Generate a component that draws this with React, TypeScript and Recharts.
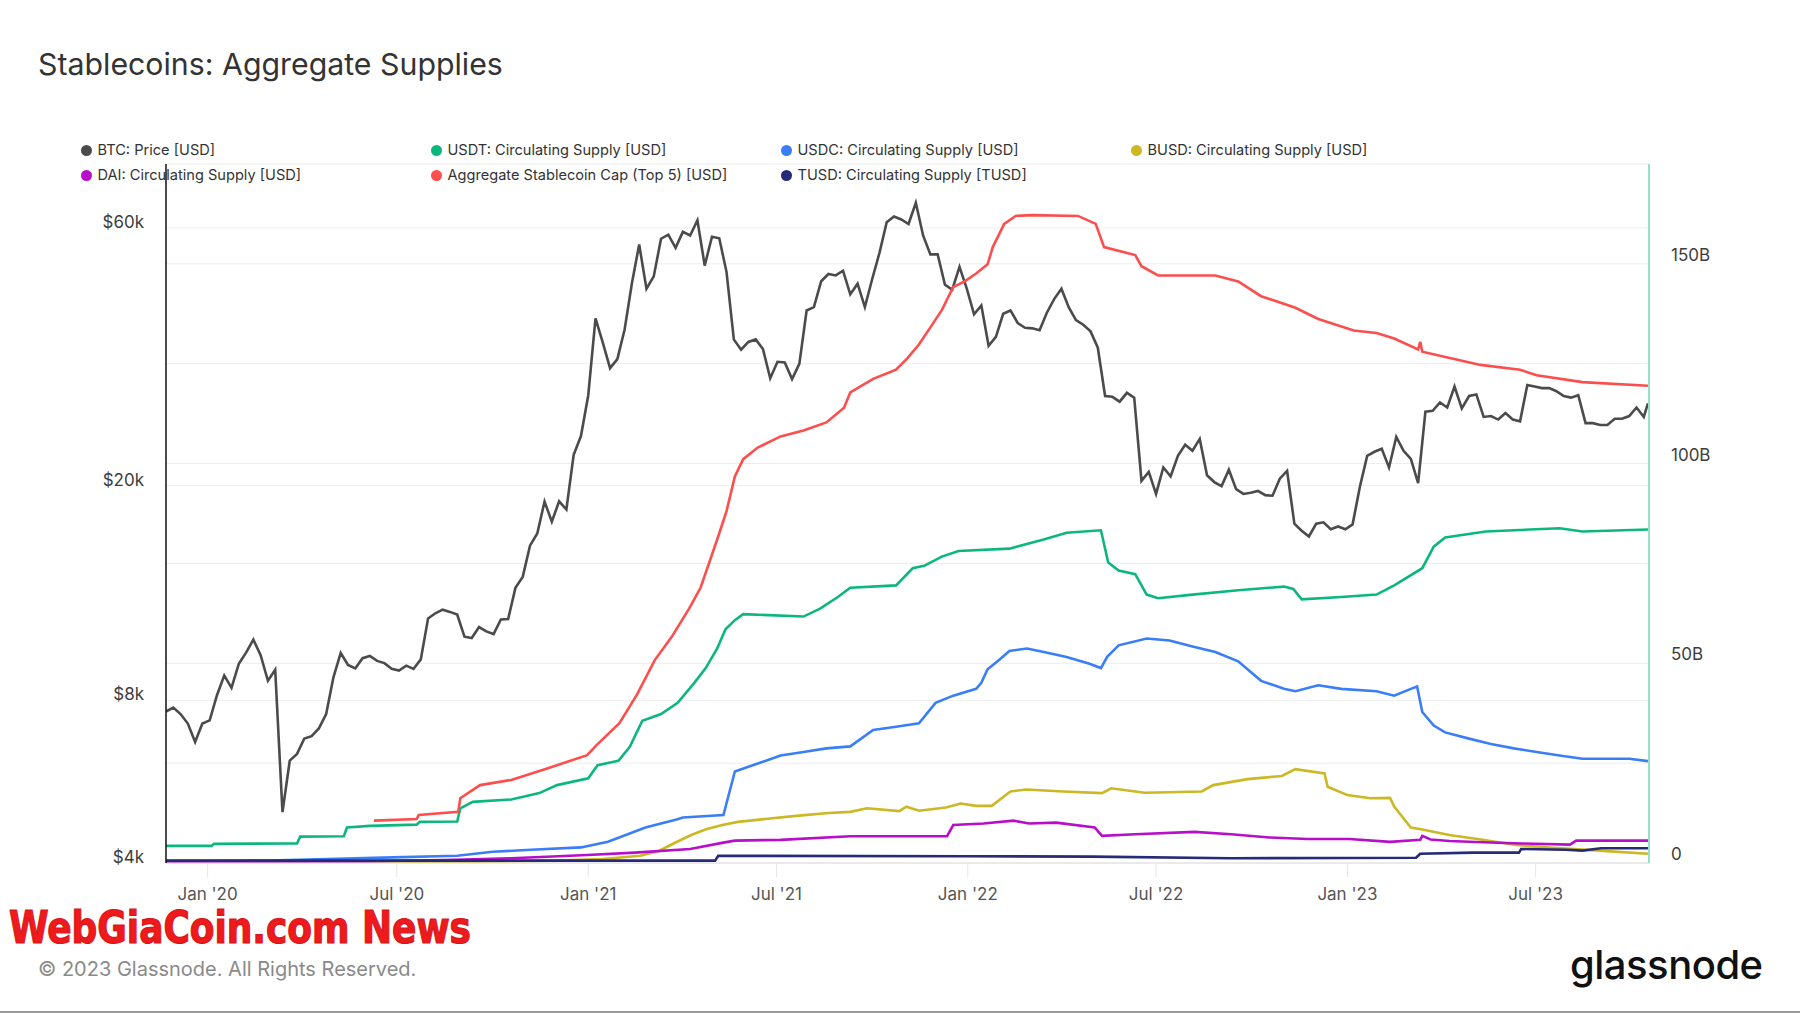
import React from "react"
import { LineChart, Line, XAxis, YAxis, CartesianGrid, ReferenceLine } from "recharts"

// BTC price, weekly closes (USD), each array starts on the given Friday
const btc2019Start = "2019-11-22"
const btc2019 = [7630, 7760, 7550, 7250, 6700, 7250]
const btc2020Start = "2020-01-03"
const btc2020 = [
  7350, 8180, 8900, 8440, 9350, 9810, 10370, 9700, 8700, 9120, 4970, 6190, 6370, 6800, 6870, 7100, 7550, 8830, 9800,
  9310, 9170, 9580, 9670, 9470, 9380, 9160, 9090, 9280, 9150, 9530, 11350, 11600, 11780, 11670, 11540, 10500, 10440,
  10940, 10740, 10620, 11300, 11320, 12930, 13550, 15480, 16300, 18680, 17150, 18700, 18060, 22800, 24700,
]
const btc2021Start = "2021-01-01"
const btc2021 = [
  29370, 40800, 36800, 33000, 34300, 38900, 47400, 55900, 46300, 48800, 57300, 58300, 55100, 59000, 58100, 62000, 51100,
  57800, 57400, 49700, 37300, 35700, 36900, 37300, 35800, 31600, 33900, 33800, 31500, 33600, 42200, 42800, 47800, 49300,
  49000, 50000, 45200, 47300, 42800, 48200, 53900, 61500, 63000, 62200, 61000, 66800, 58100, 53600, 53600, 47100, 46100,
  50800, 46300,
]
const btc2022Start = "2022-01-07"
const btc2022 = [
  41500, 43100, 36300, 37700, 41600, 42200, 40000, 39200, 39100, 38800, 41800, 44300, 46300, 42800, 40500, 39700, 38600,
  36000, 29300, 29200, 28600, 29700, 29100, 20400, 21200, 19300, 21600, 20800, 22700, 23800, 23200, 24400, 20900, 20300,
  19950, 21400, 19700, 19300, 19400, 19550, 19200, 19150, 20600, 21300, 17000, 16500, 16100, 17000, 17100, 16600, 16800,
  16600,
]
const btc2023Start = "2023-01-06"
const btc2023 = [
  16950, 19900, 22700, 23100, 23400, 21600, 24600, 23200, 22400, 20200, 27400, 27500, 28500, 27900, 30500, 27800, 29300,
  29500, 26800, 26900, 26500, 27250, 26500, 26300, 30700, 30500, 30300, 30300, 29900, 29300, 29100, 29400, 26100, 26100,
  25900, 25900, 26600, 26600, 26900, 27900, 26800,
]
const btcLatest: [string, number] = ["2023-10-17", 28400]

// stablecoin supplies, billions USD
const usdt: [string, number][] = [
  ["2019-11-22", 4.3], ["2020-01-05", 4.3], ["2020-01-07", 4.8], ["2020-03-27", 4.9], ["2020-03-30", 6.6],
  ["2020-05-11", 6.7], ["2020-05-14", 8.9], ["2020-06-05", 9.3], ["2020-07-20", 9.6], ["2020-07-23", 10.3],
  ["2020-08-28", 10.4], ["2020-08-31", 13.7], ["2020-09-12", 15.3], ["2020-10-19", 15.9], ["2020-11-15", 17.5],
  ["2020-12-02", 19.5], ["2021-01-01", 21.2], ["2021-01-10", 24.5], ["2021-01-30", 25.6], ["2021-02-10", 29.1],
  ["2021-02-22", 35.6], ["2021-03-12", 37.3], ["2021-03-28", 40.1], ["2021-04-13", 45.1], ["2021-04-24", 48.8],
  ["2021-05-05", 53.7], ["2021-05-13", 58.5], ["2021-05-22", 60.8], ["2021-05-30", 62.3], ["2021-07-27", 61.7],
  ["2021-08-12", 63.7], ["2021-08-29", 66.6], ["2021-09-10", 68.9], ["2021-10-24", 69.5], ["2021-11-09", 73.8],
  ["2021-11-20", 74.4], ["2021-12-07", 76.7], ["2021-12-23", 78.1], ["2022-02-10", 78.7], ["2022-03-15", 81.0],
  ["2022-04-06", 82.7], ["2022-05-09", 83.3], ["2022-05-16", 75.2], ["2022-05-26", 73.2], ["2022-06-11", 72.3],
  ["2022-06-22", 67.2], ["2022-07-03", 66.3], ["2022-08-05", 67.2], ["2022-09-18", 68.3], ["2022-11-01", 69.2],
  ["2022-11-10", 68.6], ["2022-11-18", 66.0], ["2022-12-26", 66.6], ["2023-01-29", 67.2], ["2023-02-15", 69.5],
  ["2023-03-14", 73.8], ["2023-03-25", 79.2], ["2023-04-05", 81.5], ["2023-05-14", 83.0], ["2023-07-24", 83.8],
  ["2023-08-15", 83.0], ["2023-10-17", 83.5],
]
const usdc: [string, number][] = [
  ["2019-11-22", 0.5], ["2020-03-01", 0.6], ["2020-06-27", 1.4], ["2020-08-28", 1.8], ["2020-10-01", 2.8],
  ["2020-11-07", 3.3], ["2020-12-25", 3.9], ["2021-01-20", 5.3], ["2021-02-25", 8.9], ["2021-03-27", 10.9],
  ["2021-04-02", 11.4], ["2021-05-11", 12.0], ["2021-05-22", 22.9], ["2021-06-13", 24.9], ["2021-07-05", 26.9],
  ["2021-07-27", 27.8], ["2021-08-18", 28.7], ["2021-09-10", 29.2], ["2021-10-02", 33.3], ["2021-10-24", 34.1],
  ["2021-11-15", 35.0], ["2021-12-01", 40.1], ["2021-12-18", 41.9], ["2022-01-09", 43.6], ["2022-01-14", 45.1],
  ["2022-01-20", 48.5], ["2022-01-31", 50.8], ["2022-02-10", 53.1], ["2022-02-27", 53.7], ["2022-03-15", 52.8],
  ["2022-04-06", 51.6], ["2022-04-28", 49.9], ["2022-05-09", 48.8], ["2022-05-15", 51.6], ["2022-05-26", 54.5],
  ["2022-06-22", 56.2], ["2022-07-14", 55.7], ["2022-08-05", 54.2], ["2022-08-27", 52.8], ["2022-09-18", 50.5],
  ["2022-10-10", 45.6], ["2022-11-01", 43.6], ["2022-11-12", 43.0], ["2022-12-04", 44.5], ["2022-12-26", 43.6],
  ["2023-01-29", 43.0], ["2023-02-15", 41.9], ["2023-03-03", 43.6], ["2023-03-09", 44.2], ["2023-03-14", 37.8],
  ["2023-03-25", 34.4], ["2023-04-05", 32.7], ["2023-04-27", 31.2], ["2023-05-19", 29.8], ["2023-06-10", 28.7],
  ["2023-07-02", 27.8], ["2023-07-24", 26.9], ["2023-08-15", 26.1], ["2023-09-29", 26.1], ["2023-10-17", 25.5],
]
const busd: [string, number][] = [
  ["2019-11-22", 0.2], ["2020-09-01", 0.3], ["2020-12-01", 0.6], ["2021-01-15", 1.0], ["2021-02-20", 1.8],
  ["2021-03-10", 3.0], ["2021-03-25", 5.0], ["2021-04-10", 7.0], ["2021-04-25", 8.5], ["2021-05-10", 9.5],
  ["2021-05-25", 10.3], ["2021-06-20", 11.0], ["2021-07-20", 11.8], ["2021-08-20", 12.5], ["2021-09-10", 12.8],
  ["2021-09-26", 13.7], ["2021-10-27", 13.0], ["2021-11-03", 14.1], ["2021-11-15", 13.1], ["2021-12-11", 13.9],
  ["2021-12-25", 14.9], ["2022-01-09", 14.3], ["2022-01-24", 14.3], ["2022-02-11", 17.9], ["2022-02-26", 18.4],
  ["2022-04-03", 17.9], ["2022-05-10", 17.5], ["2022-05-19", 18.7], ["2022-06-20", 17.6], ["2022-08-14", 17.9],
  ["2022-08-25", 19.5], ["2022-09-27", 21.0], ["2022-10-30", 21.8], ["2022-11-12", 23.5], ["2022-12-10", 22.4],
  ["2022-12-13", 19.1], ["2023-01-01", 17.0], ["2023-01-23", 16.2], ["2023-02-11", 16.3], ["2023-02-15", 14.1],
  ["2023-03-03", 8.9], ["2023-03-14", 8.4], ["2023-04-09", 7.0], ["2023-05-11", 5.8], ["2023-06-12", 4.5],
  ["2023-07-14", 3.9], ["2023-08-31", 3.1], ["2023-10-17", 2.3],
]
const dai: [string, number][] = [
  ["2019-11-22", 0.3], ["2020-06-01", 0.4], ["2020-08-17", 0.75], ["2020-10-19", 1.2], ["2020-12-31", 2.0],
  ["2021-02-15", 2.6], ["2021-04-09", 3.5], ["2021-05-11", 5.1], ["2021-05-22", 5.6], ["2021-07-05", 5.8],
  ["2021-09-10", 6.7], ["2021-12-12", 6.7], ["2021-12-18", 9.5], ["2022-01-16", 9.9], ["2022-02-14", 10.6],
  ["2022-03-01", 9.9], ["2022-03-27", 10.1], ["2022-05-03", 8.9], ["2022-05-10", 6.8], ["2022-06-11", 7.2],
  ["2022-08-07", 7.8], ["2022-09-11", 7.2], ["2022-10-18", 6.4], ["2022-11-24", 6.0], ["2023-01-03", 6.0],
  ["2023-02-11", 5.3], ["2023-03-12", 5.8], ["2023-03-14", 6.8], ["2023-03-22", 5.9], ["2023-04-09", 5.5],
  ["2023-05-11", 5.2], ["2023-06-18", 4.9], ["2023-08-03", 4.6], ["2023-08-09", 5.6], ["2023-10-17", 5.6],
]
const aggregate: [string, number][] = [
  ["2020-06-09", 10.6], ["2020-07-20", 11.0], ["2020-07-22", 12.0], ["2020-08-29", 12.8], ["2020-08-31", 16.2],
  ["2020-09-19", 19.5], ["2020-10-19", 20.8], ["2020-11-24", 23.8], ["2020-12-31", 27.0], ["2021-01-09", 29.5],
  ["2021-01-31", 35.0], ["2021-02-17", 42.2], ["2021-03-06", 50.8], ["2021-03-22", 56.5], ["2021-04-08", 63.7],
  ["2021-04-19", 68.9], ["2021-05-05", 81.0], ["2021-05-14", 88.1], ["2021-05-22", 96.8], ["2021-05-30", 101.1],
  ["2021-06-13", 104.0], ["2021-07-05", 106.8], ["2021-07-27", 108.3], ["2021-08-18", 110.3], ["2021-09-04", 114.0],
  ["2021-09-10", 117.8], ["2021-10-02", 121.2], ["2021-10-24", 123.5], ["2021-11-04", 126.4], ["2021-11-15", 129.8],
  ["2021-11-26", 134.1], ["2021-12-07", 138.4], ["2021-12-18", 144.2], ["2021-12-29", 145.6], ["2022-01-09", 147.6],
  ["2022-01-20", 149.9], ["2022-01-25", 154.2], ["2022-02-05", 160.0], ["2022-02-16", 162.0], ["2022-03-04", 162.2],
  ["2022-04-17", 162.0], ["2022-05-04", 160.0], ["2022-05-12", 154.2], ["2022-06-11", 152.2], ["2022-06-17", 149.4],
  ["2022-07-03", 147.1], ["2022-08-27", 147.1], ["2022-09-18", 145.6], ["2022-10-10", 141.9], ["2022-11-12", 139.0],
  ["2022-12-04", 136.2], ["2023-01-07", 133.3], ["2023-01-29", 132.7], ["2023-02-15", 131.3], ["2023-03-10", 128.6],
  ["2023-03-12", 130.5], ["2023-03-14", 128.0], ["2023-03-31", 127.0], ["2023-05-09", 124.7], ["2023-06-16", 123.5],
  ["2023-07-02", 122.1], ["2023-08-15", 120.4], ["2023-10-17", 119.5],
]
const tusd: [string, number][] = [
  ["2019-11-22", 0.6], ["2021-05-03", 0.6], ["2021-05-06", 1.8], ["2022-01-01", 1.7], ["2022-05-01", 1.6],
  ["2022-09-11", 1.2], ["2023-03-08", 1.3], ["2023-03-12", 2.3], ["2023-05-02", 2.6], ["2023-06-15", 2.6],
  ["2023-06-17", 3.5], ["2023-07-30", 3.3], ["2023-08-15", 3.1], ["2023-09-02", 3.7], ["2023-10-17", 3.7],
]

const xTickDates = ["2020-01-01", "2020-07-01", "2021-01-01", "2021-07-01", "2022-01-01", "2022-07-01", "2023-01-01", "2023-07-01"]
const leftTicks = [4000, 8000, 20000, 60000]
const rightTicks = [0, 25, 50, 75, 100, 125, 150, 175]

const legendRows = [
  [
    { name: "BTC: Price [USD]", color: "#4b4b4d" },
    { name: "USDT: Circulating Supply [USD]", color: "#0cb77f" },
    { name: "USDC: Circulating Supply [USD]", color: "#3a7ef7" },
    { name: "BUSD: Circulating Supply [USD]", color: "#cbb823" },
  ],
  [
    { name: "DAI: Circulating Supply [USD]", color: "#b70fc9" },
    { name: "Aggregate Stablecoin Cap (Top 5) [USD]", color: "#fd4e4e" },
    { name: "TUSD: Circulating Supply [TUSD]", color: "#262a78" },
  ],
]

const DAY = 86400000
const ts = (s: string) => {
  const [y, m, d] = s.split("-").map(Number)
  return Date.UTC(y, m - 1, d)
}
const weekly = (start: string, values: number[]) => values.map((v, i) => ({ t: ts(start) + i * 7 * DAY, v }))
const pts = (rows: [string, number][]) => rows.map(([d, v]) => ({ t: ts(d), v }))

const btcData = [
  ...weekly(btc2019Start, btc2019),
  ...weekly(btc2020Start, btc2020),
  ...weekly(btc2021Start, btc2021),
  ...weekly(btc2022Start, btc2022),
  ...weekly(btc2023Start, btc2023),
  { t: ts(btcLatest[0]), v: btcLatest[1] },
]

const fmtDate = (t: number) => {
  const d = new Date(t)
  return `${d.getUTCMonth() === 0 ? "Jan" : "Jul"} '${String(d.getUTCFullYear()).slice(2)}`
}

const LeftTick = (props: any) => {
  const { x, y, payload } = props
  return (
    <text x={x} y={y - 6} dy="0.35em" textAnchor="end" fill="#3d3d3d" fontSize={17}>
      {`$${payload.value / 1000}k`}
    </text>
  )
}

const RightTick = (props: any) => {
  const { x, y, payload } = props
  const v = payload.value
  if (v % 50 !== 0 || v > 150) return null
  return (
    <text x={x} y={y - 9} dy="0.35em" textAnchor="start" fill="#3d3d3d" fontSize={17}>
      {v === 0 ? "0" : `${v}B`}
    </text>
  )
}

const series = [
  { key: "btc", data: btcData, axis: "left", color: "#4b4b4d" },
  { key: "usdt", data: pts(usdt), axis: "right", color: "#0cb77f" },
  { key: "usdc", data: pts(usdc), axis: "right", color: "#3a7ef7" },
  { key: "busd", data: pts(busd), axis: "right", color: "#cbb823" },
  { key: "dai", data: pts(dai), axis: "right", color: "#b70fc9" },
  { key: "agg", data: pts(aggregate), axis: "right", color: "#fd4e4e" },
  { key: "tusd", data: pts(tusd), axis: "right", color: "#262a78" },
]

export default function App() {
  const font = "Inter, 'Noto Sans', sans-serif"
  return (
    <div
      style={{
        position: "absolute",
        left: 0,
        top: 0,
        width: 1800,
        height: 1013,
        background: "#fff",
        overflow: "hidden",
        fontFamily: font,
      }}
    >
      <div style={{ position: "absolute", left: 38, top: 49, fontSize: 30.3, lineHeight: "30px", color: "#333" }}>
        Stablecoins: Aggregate Supplies
      </div>

      {legendRows.map((row, r) =>
        row.map((item, i) => (
          <div key={item.name} style={{ position: "absolute", left: 80.5 + i * 350, top: 143 + r * 25, height: 14 }}>
            <span
              style={{
                position: "absolute",
                left: 0,
                top: 1.5,
                width: 11,
                height: 11,
                borderRadius: "50%",
                background: item.color,
              }}
            />
            <span
              style={{
                position: "absolute",
                left: 17,
                top: 0,
                fontSize: 14.6,
                lineHeight: "14px",
                color: "#333",
                whiteSpace: "nowrap",
              }}
            >
              {item.name}
            </span>
          </div>
        ))
      )}

      <div style={{ position: "absolute", left: 0, top: 0 }}>
        <LineChart width={1800} height={1013} margin={{ top: 164, right: 71, bottom: 100, left: 86 }}>
          <CartesianGrid yAxisId="right" vertical={false} stroke="#ececec" />
          <XAxis
            dataKey="t"
            type="number"
            domain={[ts("2019-11-22"), ts("2023-10-18")]}
            ticks={xTickDates.map(ts)}
            tickFormatter={fmtDate}
            allowDataOverflow
            height={50}
            axisLine={{ stroke: "#dedede" }}
            tickLine={{ stroke: "#e6e6e6" }}
            tickSize={14}
            tickMargin={11}
            tick={{ fill: "#555", fontSize: 17 }}
          />
          <YAxis
            yAxisId="left"
            orientation="left"
            scale="log"
            domain={[4000, 78800]}
            allowDataOverflow
            ticks={leftTicks}
            width={80}
            tickSize={0}
            tickMargin={22}
            tick={<LeftTick />}
            axisLine={{ stroke: "#111", strokeWidth: 1.5 }}
            tickLine={false}
          />
          <YAxis
            yAxisId="right"
            orientation="right"
            domain={[0, 175]}
            allowDataOverflow
            ticks={rightTicks}
            width={80}
            tickSize={0}
            tickMargin={22}
            tick={<RightTick />}
            axisLine={{ stroke: "#93e2c8", strokeWidth: 2 }}
            tickLine={false}
          />
          {leftTicks.slice(1).map((v) => (
            <ReferenceLine key={v} yAxisId="left" y={v} stroke="#efefef" />
          ))}
          {series.map((s) => (
            <Line
              key={s.key}
              yAxisId={s.axis}
              data={s.data}
              dataKey="v"
              type="linear"
              stroke={s.color}
              strokeWidth={2.6}
              dot={false}
              activeDot={false}
              isAnimationActive={false}
            />
          ))}
        </LineChart>
      </div>

      <svg style={{ position: "absolute", left: 0, top: 906, overflow: "visible" }} width={540} height={50}>
        <text
          x={9}
          y={37}
          fontFamily="'DejaVu Sans Condensed', 'Liberation Sans Narrow', sans-serif"
          fontWeight="bold"
          fontSize={45}
          fill="#ef1a1c"
          stroke="#d8161a"
          strokeWidth={1.2}
          textLength={462}
          lengthAdjust="spacingAndGlyphs"
        >
          WebGiaCoin.com News
        </text>
      </svg>

      <div style={{ position: "absolute", left: 38, top: 959, fontSize: 20, lineHeight: "20px", color: "#8a8a8a" }}>
        © 2023 Glassnode. All Rights Reserved.
      </div>
      <div
        style={{
          position: "absolute",
          left: 1570,
          top: 945,
          fontSize: 40,
          lineHeight: "40px",
          fontWeight: 500,
          color: "#111",
          letterSpacing: -0.5,
        }}
      >
        glassnode
      </div>
      <div style={{ position: "absolute", left: 0, top: 1011, width: 1800, height: 2, background: "#9a9a9a" }} />
    </div>
  )
}
